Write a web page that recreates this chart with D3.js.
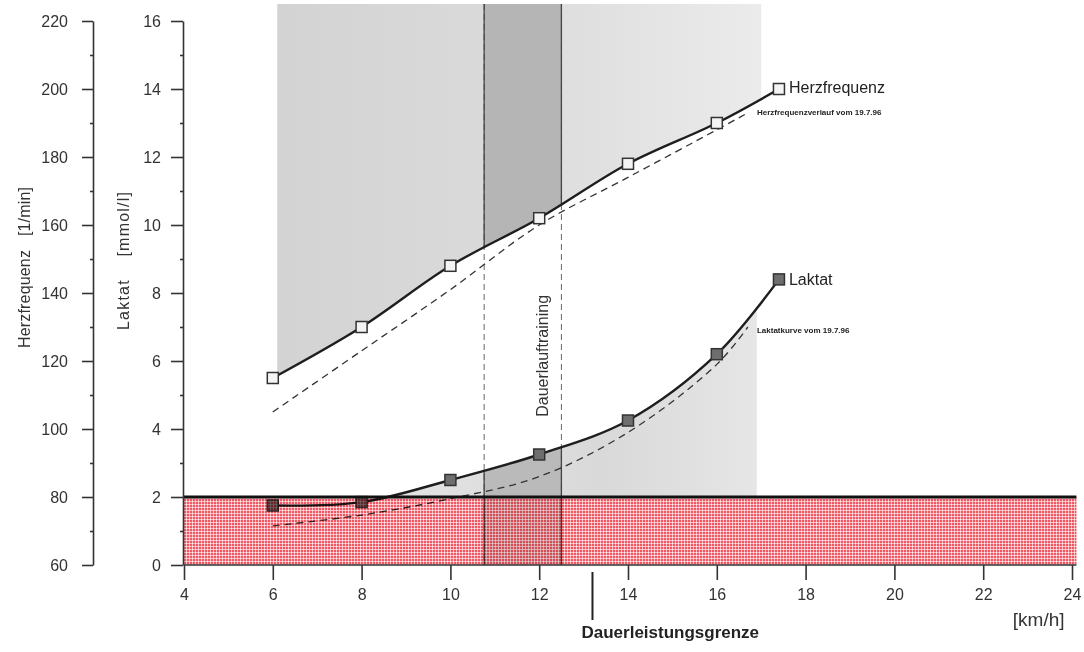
<!DOCTYPE html>
<html>
<head>
<meta charset="utf-8">
<script src="https://cdn.jsdelivr.net/npm/d3@7"></script>
<style>
  body { margin: 0; background: #fff; }
  svg { display: block; font-family: "Liberation Sans", Arial, Helvetica, sans-serif; }
</style>
</head>
<body>
<div id="chart"></div>
<script>
// Stufentest: Geschwindigkeit [km/h]
const speeds = [6, 8, 10, 12, 14, 16, 17.4];
const heartRate = [115, 130, 148, 162, 178, 190, 200];
const lactate = [1.75, 1.85, 2.5, 3.25, 4.25, 6.2, 8.4];

// Vergleichstest vom 19.7.96
const prevSpeeds = [6, 8, 10, 12, 14, 16, 16.7];
const prevHeartRate = [105, 123, 141, 160, 174, 188, 193];
const prevLactate = [1.15, 1.47, 1.95, 2.6, 3.9, 5.9, 7.0];

const xTicks = [4, 6, 8, 10, 12, 14, 16, 18, 20, 22, 24];
const hfTicks = [60, 80, 100, 120, 140, 160, 180, 200, 220];
const hfMinor = [70, 90, 110, 130, 150, 170, 190, 210];
const laTicks = [0, 2, 4, 6, 8, 10, 12, 14, 16];
const laMinor = [1, 3, 5, 7, 9, 11, 13, 15];

const band = [10.76, 12.5];          // Dauerlauftraining
const limitSpeed = 13.2;             // Dauerleistungsgrenze
const threshold = 2;                 // mmol/l
const shadeX = [6.1, 17.0];          // grauer Hintergrund oben
const lacShadeX = [8.3, 16.9];       // grauer Bereich unter Laktatkurve
const shadeTop = 16.5;

const width = 1084, height = 652;

const svg = d3.select("#chart").append("svg")
  .attr("width", width).attr("height", height);

const x = d3.scaleLinear().domain([4, 24]).range([184, 1072]);
const yL = d3.scaleLinear().domain([0, 16]).range([565, 21]);
const yHF = d3.scaleLinear().domain([60, 220]).range([565, 21]);

const hfData = speeds.map((s, i) => ({ s, v: heartRate[i] }));
const laData = speeds.map((s, i) => ({ s, v: lactate[i] }));
const hfPrev = prevSpeeds.map((s, i) => ({ s, v: prevHeartRate[i] }));
const laPrev = prevSpeeds.map((s, i) => ({ s, v: prevLactate[i] }));

const curve = d3.curveCatmullRom.alpha(0.5);

const defs = svg.append("defs");

// red raster pattern
const pat = defs.append("pattern").attr("id", "redgrid")
  .attr("patternUnits", "userSpaceOnUse").attr("width", 3).attr("height", 3);
pat.append("rect").attr("width", 3).attr("height", 3).attr("fill", "#f25863");
pat.append("rect").attr("width", 3).attr("height", 1).attr("fill", "#fff").attr("opacity", 0.6);
pat.append("rect").attr("width", 1).attr("height", 3).attr("fill", "#fff").attr("opacity", 0.6);

const grad = defs.append("linearGradient").attr("id", "topgray")
  .attr("gradientUnits", "userSpaceOnUse")
  .attr("x1", x(shadeX[0])).attr("x2", x(shadeX[1])).attr("y1", 0).attr("y2", 0);
grad.append("stop").attr("offset", "0%").attr("stop-color", "#d3d3d3");
grad.append("stop").attr("offset", "45%").attr("stop-color", "#dadada");
grad.append("stop").attr("offset", "100%").attr("stop-color", "#ebebeb");

const lgrad = defs.append("linearGradient").attr("id", "lacgray")
  .attr("gradientUnits", "userSpaceOnUse")
  .attr("x1", x(lacShadeX[0])).attr("x2", x(lacShadeX[1])).attr("y1", 0).attr("y2", 0);
lgrad.append("stop").attr("offset", "0%").attr("stop-color", "#e4e4e4");
lgrad.append("stop").attr("offset", "60%").attr("stop-color", "#d9d9d9");
lgrad.append("stop").attr("offset", "100%").attr("stop-color", "#e6e6e6");

const hfAreaTop = d3.area().curve(curve)
  .x(d => x(d.s)).y0(yL(shadeTop)).y1(d => yHF(d.v));
const laAreaBelow = d3.area().curve(curve)
  .x(d => x(d.s)).y0(yL(threshold)).y1(d => yL(d.v));

defs.append("clipPath").attr("id", "clipTop").append("rect")
  .attr("x", x(shadeX[0])).attr("width", x(shadeX[1]) - x(shadeX[0]))
  .attr("y", 0).attr("height", height);
defs.append("clipPath").attr("id", "clipLac").append("rect")
  .attr("x", x(lacShadeX[0])).attr("width", x(lacShadeX[1]) - x(lacShadeX[0]))
  .attr("y", 0).attr("height", height);
defs.append("clipPath").attr("id", "clipBand").append("rect")
  .attr("x", x(band[0])).attr("width", x(band[1]) - x(band[0]))
  .attr("y", 0).attr("height", height);

// clip for the solid band edges: only inside the shaded parts
const edgeClip = defs.append("clipPath").attr("id", "clipEdge");
edgeClip.append("path").attr("d", hfAreaTop(hfData));
edgeClip.append("path").attr("d", laAreaBelow(laData));
edgeClip.append("rect").attr("x", 0).attr("width", width)
  .attr("y", yL(threshold)).attr("height", yL(0) - yL(threshold));

const bg = svg.append("g");

bg.append("path").attr("clip-path", "url(#clipTop)")
  .attr("d", hfAreaTop(hfData)).attr("fill", "url(#topgray)");
bg.append("path").attr("clip-path", "url(#clipLac)")
  .attr("d", laAreaBelow(laData)).attr("fill", "url(#lacgray)");

const bandG = bg.append("g").attr("clip-path", "url(#clipBand)");
bandG.append("path").attr("d", hfAreaTop(hfData)).attr("fill", "#b5b5b5");
bandG.append("path").attr("d", laAreaBelow(laData)).attr("fill", "#bababa");
bandG.append("rect")
  .attr("x", x(band[0])).attr("width", x(band[1]) - x(band[0]))
  .attr("y", yL(threshold)).attr("height", yL(0) - yL(threshold))
  .attr("fill", "#e0e0e0");

// band edges: dashed everywhere, solid inside the shaded parts
band.forEach(b => {
  bg.append("line")
    .attr("x1", x(b)).attr("x2", x(b))
    .attr("y1", yL(shadeTop)).attr("y2", yL(0))
    .attr("stroke", "#666").attr("stroke-width", 1)
    .attr("stroke-dasharray", "6,4");
  bg.append("line").attr("clip-path", "url(#clipEdge)")
    .attr("x1", x(b)).attr("x2", x(b))
    .attr("y1", yL(shadeTop)).attr("y2", yL(0))
    .attr("stroke", "#444").attr("stroke-width", 1.3);
});

// curves
const line = (yScale) => d3.line().curve(curve)
  .x(d => x(d.s)).y(d => yScale(d.v));

const curves = svg.append("g").attr("fill", "none");
curves.append("path").attr("d", line(yHF)(hfPrev))
  .attr("stroke", "#333").attr("stroke-width", 1.3).attr("stroke-dasharray", "7,5");
curves.append("path").attr("d", line(yL)(laPrev))
  .attr("stroke", "#333").attr("stroke-width", 1.3).attr("stroke-dasharray", "7,5");
curves.append("path").attr("d", line(yHF)(hfData))
  .attr("stroke", "#1e1e1e").attr("stroke-width", 2.4);
curves.append("path").attr("d", line(yL)(laData))
  .attr("stroke", "#1e1e1e").attr("stroke-width", 2.4);

// markers
const ms = 11;
svg.append("g").selectAll("rect").data(hfData).join("rect")
  .attr("x", d => x(d.s) - ms / 2).attr("y", d => yHF(d.v) - ms / 2)
  .attr("width", ms).attr("height", ms)
  .attr("fill", "#f4f4f4").attr("stroke", "#333").attr("stroke-width", 1.5);
svg.append("g").selectAll("rect").data(laData).join("rect")
  .attr("x", d => x(d.s) - ms / 2).attr("y", d => yL(d.v) - ms / 2)
  .attr("width", ms).attr("height", ms)
  .attr("fill", "#6e6e6e").attr("stroke", "#333").attr("stroke-width", 1.5);

// red region (multiplied over everything below 2 mmol/l)
svg.append("rect")
  .attr("x", x(4)).attr("width", x(24.1) - x(4))
  .attr("y", yL(threshold)).attr("height", yL(0) - yL(threshold))
  .attr("fill", "url(#redgrid)")
  .style("mix-blend-mode", "multiply");

svg.append("line")
  .attr("x1", x(4)).attr("x2", x(24.1))
  .attr("y1", yL(threshold)).attr("y2", yL(threshold))
  .attr("stroke", "#111").attr("stroke-width", 3);

// axes
function styleAxis(g) {
  g.selectAll("path, line").attr("stroke", "#333").attr("stroke-width", 1.6);
  g.selectAll("text").attr("fill", "#333").style("font-size", "16px")
    .style("font-family", "'Liberation Sans', Arial, sans-serif");
}

svg.append("g").attr("transform", `translate(${x(4) - 91},0)`)
  .call(d3.axisLeft(yHF).tickValues(hfTicks).tickSize(11).tickSizeOuter(0).tickPadding(14))
  .call(styleAxis);
svg.append("g").attr("transform", `translate(${x(4) - 91},0)`)
  .call(d3.axisLeft(yHF).tickValues(hfMinor).tickSize(3).tickFormat(""))
  .call(g => g.select(".domain").remove())
  .call(styleAxis);

svg.append("g").attr("transform", `translate(${x(4) - 1},0)`)
  .call(d3.axisLeft(yL).tickValues(laTicks).tickSize(12).tickSizeOuter(0).tickPadding(10))
  .call(styleAxis);
svg.append("g").attr("transform", `translate(${x(4) - 1},0)`)
  .call(d3.axisLeft(yL).tickValues(laMinor).tickSize(3).tickFormat(""))
  .call(g => g.select(".domain").remove())
  .call(styleAxis);

svg.append("g").attr("transform", `translate(0,${yL(0)})`)
  .call(d3.axisBottom(x).tickValues(xTicks).tickSize(15).tickSizeOuter(0).tickPadding(9))
  .call(styleAxis)
  .call(g => g.select(".domain").attr("d", `M${x(4)},0H${x(24.1)}`));

// axis titles
svg.append("text")
  .attr("transform", `translate(30,${yL(8.75)}) rotate(-90)`)
  .attr("text-anchor", "middle").attr("fill", "#333").style("font-size", "16px")
  .style("white-space", "pre")
  .attr("textLength", 161).attr("lengthAdjust", "spacing")
  .text("Herzfrequenz   [1/min]");
svg.append("text")
  .attr("transform", `translate(129,${yL(8.94)}) rotate(-90)`)
  .attr("text-anchor", "middle").attr("fill", "#333").style("font-size", "16px")
  .style("white-space", "pre")
  .attr("textLength", 138).attr("lengthAdjust", "spacing")
  .text("Laktat    [mmol/l]");

svg.append("text")
  .attr("x", x(23.25)).attr("y", 626)
  .attr("text-anchor", "middle").attr("fill", "#333").style("font-size", "19px")
  .text("[km/h]");

// Dauerleistungsgrenze
svg.append("line")
  .attr("x1", x(limitSpeed)).attr("x2", x(limitSpeed))
  .attr("y1", yL(0) + 7).attr("y2", 620)
  .attr("stroke", "#222").attr("stroke-width", 2);
svg.append("text")
  .attr("x", x(limitSpeed) - 11).attr("y", 638)
  .attr("fill", "#222").style("font-size", "17px").style("font-weight", "bold")
  .text("Dauerleistungsgrenze");

// band label
svg.append("text")
  .attr("transform", `translate(${x((band[0] + band[1]) / 2) + 25},${yL(6.15)}) rotate(-90)`)
  .attr("text-anchor", "middle").attr("fill", "#333").style("font-size", "16px")
  .text("Dauerlauftraining");

// series labels
const last = speeds.length - 1;
svg.append("text")
  .attr("x", x(speeds[last]) + 10).attr("y", yHF(heartRate[last]) + 4)
  .attr("fill", "#222").style("font-size", "16px")
  .text("Herzfrequenz");
svg.append("text")
  .attr("x", x(speeds[last]) - 22).attr("y", yHF(heartRate[last]) + 26)
  .attr("fill", "#222").style("font-size", "8px").style("font-weight", "bold")
  .text("Herzfrequenzverlauf vom 19.7.96");
svg.append("text")
  .attr("x", x(speeds[last]) + 10).attr("y", yL(lactate[last]) + 6)
  .attr("fill", "#222").style("font-size", "16px")
  .text("Laktat");
svg.append("text")
  .attr("x", x(speeds[last]) - 22).attr("y", yL(lactate[last]) + 54)
  .attr("fill", "#222").style("font-size", "8px").style("font-weight", "bold")
  .text("Laktatkurve vom 19.7.96");
</script>
</body>
</html>
